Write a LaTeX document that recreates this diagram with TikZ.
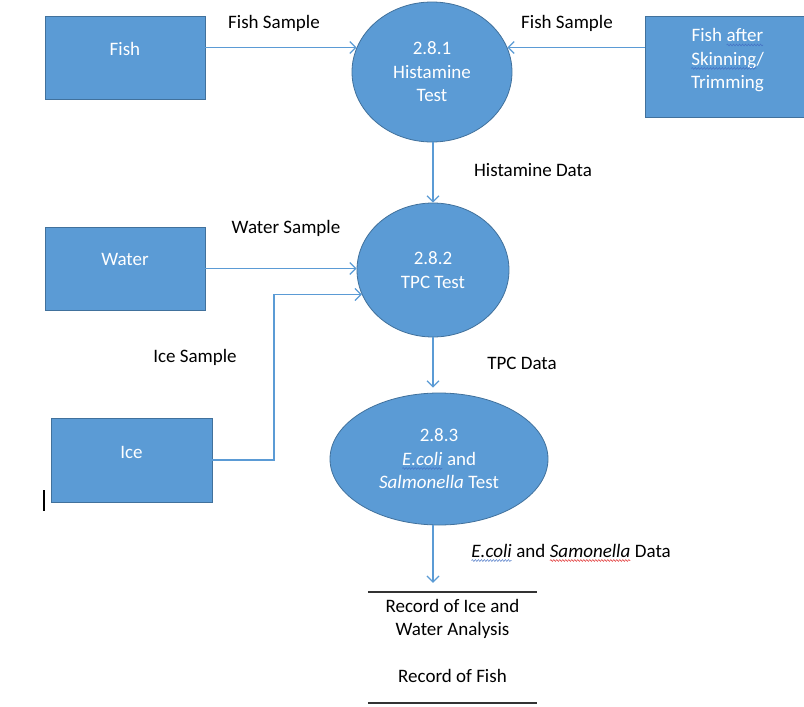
\documentclass[tikz,border=0pt]{standalone}
\usepackage{fontspec}
\setmainfont{Carlito}
\usetikzlibrary{arrows.meta,shapes.geometric,decorations.pathmorphing}
\definecolor{boxfill}{HTML}{5B9BD5}
\definecolor{boxline}{HTML}{41719C}
\definecolor{flowc}{HTML}{5B9BD5}
\definecolor{wblue}{HTML}{4472C4}
\definecolor{wred}{HTML}{E03030}
\newcommand\wavyul[2]{\tikz[baseline=(w.base)]{\node[rectangle,draw=none,fill=none,minimum width=0pt,minimum height=0pt,inner sep=0pt,outer sep=0pt](w){#2};\draw[#1,line width=0.5pt,decorate,decoration={snake,amplitude=0.9pt,segment length=3pt}] ([yshift=-3pt]w.base west) -- ([yshift=-3pt]w.base east);}}
\tikzset{
  every node/.style={font=\fontsize{19}{23.5}\selectfont},
  extbox/.style={rectangle, draw=boxline, fill=boxfill, line width=0.8pt, inner sep=0pt},
  proc/.style={ellipse, draw=boxline, fill=boxfill, line width=0.8pt, inner sep=0pt, text=white, align=center},
  flow/.style={draw=flowc, line width=1.2pt, -{Straight Barb[length=6pt,width=12pt]}},
  lbl/.style={text=black, inner sep=0pt},
  recline/.style={draw=black!80, line width=1.5pt}
}
\begin{document}
\begin{tikzpicture}[x=1pt,y=-1pt]
\useasboundingbox (0,0) rectangle (804,707);
\clip (0,0) rectangle (804,707);
% external entities
\node[extbox, minimum width=160, minimum height=83,
  label={[text=white,yshift=9pt]center:Fish}] (fish) at (125,57.5) {};
\node[extbox, minimum width=165, minimum height=101,
  label={[text=white,yshift=6pt,align=center]center:Fish \wavyul{wblue}{after}\\\wavyul{wblue}{Skinning}/\\Trimming}] (skin) at (727.5,66.5) {};
\node[extbox, minimum width=160, minimum height=83,
  label={[text=white,yshift=9pt]center:Water}] (water) at (125,268.5) {};
\node[extbox, minimum width=161, minimum height=84,
  label={[text=white,yshift=8pt]center:Ice}] (ice) at (131.5,460) {};
% processes
\node[proc, minimum width=160, minimum height=140] (c1) at (432,72) {2.8.1\\Histamine\\Test};
\node[proc, minimum width=152, minimum height=134] (c2) at (433,270) {2.8.2\\TPC Test};
\node[proc, minimum width=218, minimum height=132] (c3) at (439,459) {2.8.3\\\wavyul{wblue}{\textit{E.coli}} and\\\textit{Salmonella} Test};
% data store
\node[minimum width=169, minimum height=111, inner sep=0pt,
  label={[yshift=6.5pt,align=center]center:Record of Ice and\\Water Analysis\\[23.5pt]Record of Fish}] (rec) at (452.5,647.5) {};
\draw[recline] (rec.north west) -- (rec.north east);
\draw[recline] (rec.south west) -- (rec.south east);
% flows
\draw[flow] (fish.east |- c1.162) -- (c1.162);
\draw[flow] (skin.west |- c1.18) -- (c1.18);
\draw[flow] (c2.north |- c1.south) -- (c2.north);
\draw[flow] (water.east) -- (c2.west |- water.east);
\coordinate (icebend) at (274,0);
\draw[flow] (ice.east) -| (icebend |- c2.199) -- (c2.199);
\draw[flow, shorten >=5pt] (c2.south) -- (c2.south |- c3.north);
\draw[flow, shorten >=9pt] (c2.south |- c3.south) -- (c2.south |- rec.north);
% labels
\node[lbl] (l1) at (274,23) {Fish Sample};
\node[lbl] (l2) at (567,23) {Fish Sample};
\node[lbl] (l3) at (533,170) {Histamine Data};
\node[lbl] (l4) at (286,228) {Water Sample};
\node[lbl] (l5) at (195,357) {Ice Sample};
\node[lbl] (l6) at (522,363) {TPC Data};
\node[lbl, anchor=west] (l7) at (471,553) {\wavyul{wblue}{\textit{E.coli}} and \wavyul{wred}{\textit{Samonella}} Data};
% cursor mark
\coordinate (cur) at (44,490);
\draw[black, line width=1.5pt] (cur) -- ++(0,21);
\end{tikzpicture}
\end{document}
